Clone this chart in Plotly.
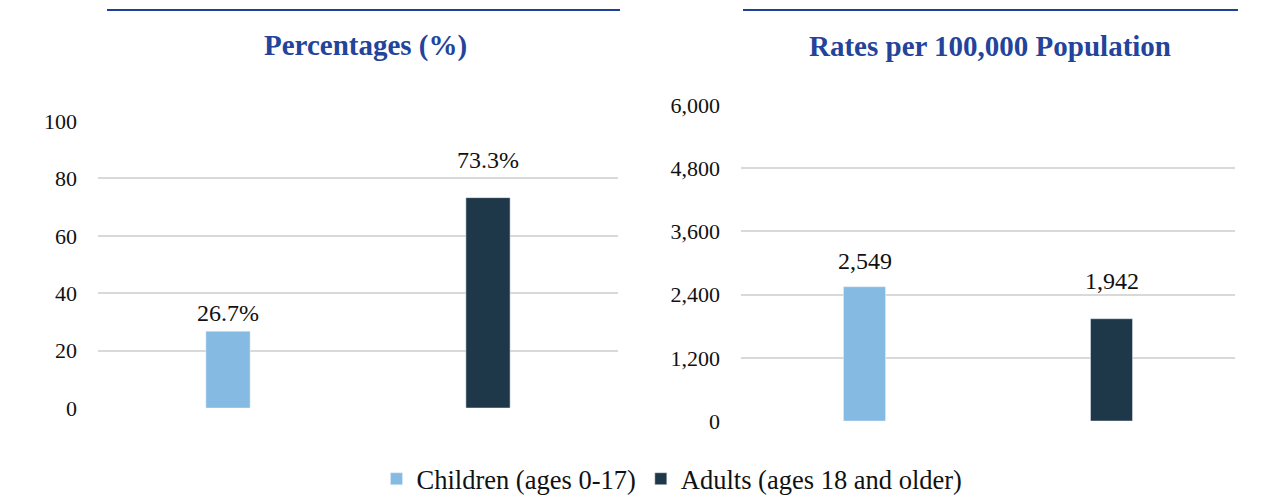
import plotly.graph_objects as go

categories = ["Children (ages 0-17)", "Adults (ages 18 and older)"]
percentages = [26.7, 73.3]
rates = [2549, 1942]
pct_labels = ["26.7%", "73.3%"]
rate_labels = ["2,549", "1,942"]
pct_ticks = [0, 20, 40, 60, 80, 100]
rate_ticks = [0, 1200, 2400, 3600, 4800, 6000]
panel_titles = ["Percentages (%)", "Rates per 100,000 Population"]

colors = ["#85BBE3", "#1F3849"]
# page body has an 8px margin; size the figure so the page is exactly 1270x499
OFF = 8
W, H = 1270 - OFF, 499 - OFF
MB = 50                      # bottom margin reserved for the legend
PH = H - MB                  # paper height in px
FONT = "Liberation Serif, Times New Roman, serif"
TITLE_BLUE = "#23449A"
TXT = "#111111"

def px(x):
    return (x - OFF) / W

def py(y):
    return 1 - (y - OFF) / PH

fig = go.Figure()
for i, cat in enumerate(categories):
    fig.add_trace(go.Bar(x=[cat], y=[percentages[i]], name=cat, marker_color=colors[i],
                         width=0.17, xaxis="x", yaxis="y", legendgroup=cat, showlegend=True,
                         hoverinfo="skip"))
    fig.add_trace(go.Bar(x=[cat], y=[rates[i]], name=cat, marker_color=colors[i],
                         width=0.17, xaxis="x2", yaxis="y2", legendgroup=cat, showlegend=False,
                         hoverinfo="skip"))

# data labels (Excel-style offsets above bar tops)
pct_shift = [18, 38]
rate_shift = [26, 38]
annotations = []
for i, cat in enumerate(categories):
    annotations.append(dict(x=cat, y=percentages[i], xref="x", yref="y", text=pct_labels[i],
                            showarrow=False, yshift=pct_shift[i], font=dict(size=24, color=TXT)))
    annotations.append(dict(x=cat, y=rates[i], xref="x2", yref="y2", text=rate_labels[i],
                            showarrow=False, yshift=rate_shift[i], font=dict(size=24, color=TXT)))

annotations.append(dict(x=px(365), y=py(46), xref="paper", yref="paper", xanchor="center",
                        yanchor="middle", text="<b>%s</b>" % panel_titles[0], showarrow=False,
                        font=dict(size=29, color=TITLE_BLUE)))
annotations.append(dict(x=px(990), y=py(46), xref="paper", yref="paper", xanchor="center",
                        yanchor="middle", text="<b>%s</b>" % panel_titles[1], showarrow=False,
                        font=dict(size=29, color=TITLE_BLUE)))

shapes = [
    dict(type="line", xref="paper", yref="paper", x0=px(107), x1=px(620), y0=py(10), y1=py(10),
         line=dict(color="#1F3F99", width=2)),
    dict(type="line", xref="paper", yref="paper", x0=px(743), x1=px(1238), y0=py(10), y1=py(10),
         line=dict(color="#1F3F99", width=2)),
]

axis_common = dict(showgrid=True, gridcolor="#D9D9D9", gridwidth=2, zeroline=False,
                   showline=False, ticks="", tickfont=dict(size=22, color=TXT),
                   ticklabelstandoff=20, fixedrange=True, automargin=False)

fig.update_layout(
    width=W, height=H, autosize=False,
    margin=dict(l=0, r=0, t=0, b=MB, pad=0),
    paper_bgcolor="white", plot_bgcolor="white",
    font=dict(family=FONT, color=TXT),
    barmode="overlay",
    showlegend=True,
    legend=dict(orientation="h", x=(672 - OFF) / W, xanchor="center", xref="container",
                y=1 - (479 - OFF) / H, yanchor="middle", yref="container",
                font=dict(size=26.5, color=TXT), itemwidth=30, bgcolor="rgba(0,0,0,0)"),
    xaxis=dict(domain=[px(98), px(618)], showticklabels=False, showgrid=False, zeroline=False,
               categoryorder="array", categoryarray=categories, fixedrange=True, automargin=False),
    yaxis=dict(domain=[py(408), py(121)], range=[0, 100], tickvals=pct_ticks, anchor="x",
               **axis_common),
    xaxis2=dict(domain=[px(741), px(1235)], showticklabels=False, showgrid=False, zeroline=False,
                categoryorder="array", categoryarray=categories, anchor="y2", fixedrange=True,
                automargin=False),
    yaxis2=dict(domain=[py(421), py(105)], range=[0, 6000], tickvals=rate_ticks,
                ticktext=[f"{v:,}" for v in rate_ticks], anchor="x2", **axis_common),
    annotations=annotations,
    shapes=shapes,
)

fig.write_html("out.html", config={"displayModeBar": False})
